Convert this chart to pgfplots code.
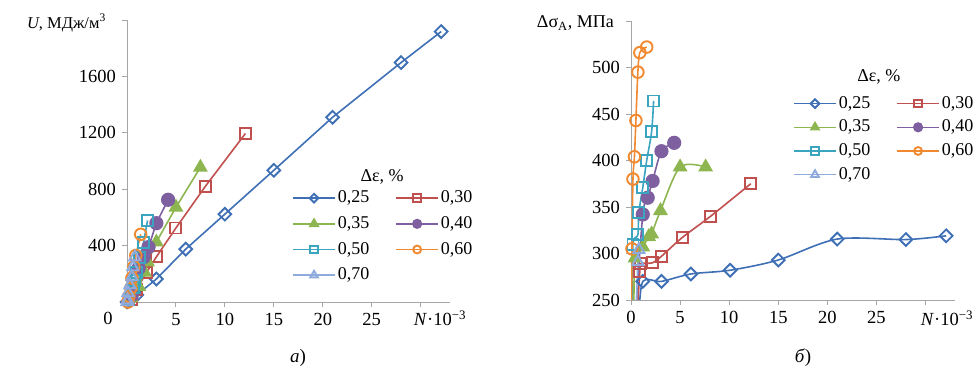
\documentclass[border=0pt]{standalone}
\usepackage{pgfplots}
\pgfplotsset{compat=1.18}
\usepackage{fontspec}
\setmainfont{Liberation Serif}
\definecolor{c1}{HTML}{3F6FB5}
\definecolor{c2}{HTML}{C0504D}
\definecolor{c3}{HTML}{8DB650}
\definecolor{c4}{HTML}{7E5FA0}
\definecolor{c5}{HTML}{3BA5C0}
\definecolor{c6}{HTML}{F0892F}
\definecolor{c7}{HTML}{8FAADC}
\definecolor{axgray}{HTML}{A6A6A6}
\pgfplotsset{
  myaxis/.style={
    scale only axis,
    axis lines=left,
    axis line style={-, draw=axgray, line width=0.9pt},
    tick style={draw=axgray, line width=0.9pt},
    tick align=outside,
    major tick length=5pt,
    /pgf/number format/assume math mode=true,
    /pgf/number format/1000 sep={},
    tick label style={font=\fontsize{18.5}{22}\selectfont},
    clip=true,
    legend columns=2,
    legend cell align=left,
    legend style={draw=none, fill=none, inner sep=0pt,
      font=\fontsize{18}{21}\selectfont,
      /tikz/every even column/.append style={column sep=24pt},
      row sep=7pt},
    legend image code/.code={
      \draw[mark repeat=2, mark phase=2, every mark/.append style={scale=0.68}]
        plot coordinates {(0pt,0pt) (21pt,0pt) (42pt,0pt)};},
    every axis plot/.append style={line width=1.6pt},
  },
  s25/.style={c1, mark=square, mark size=4.5pt, mark options={solid, fill=white, rotate=45, line width=1.9pt}},
  s30/.style={c2, mark=square, mark size=5.5pt, mark options={solid, fill=white, line width=1.9pt}},
  s35/.style={c3, mark=triangle*, mark size=7pt, mark options={solid, fill=c3}},
  s40/.style={c4, mark=*, mark size=6.3pt, mark options={solid, fill=c4}},
  s50/.style={c5, mark=square, mark size=5.5pt, mark options={solid, fill=white, line width=1.9pt}},
  s60/.style={c6, mark=o, mark size=5.8pt, mark options={solid, fill=white, line width=1.9pt}},
  s70/.style={c7, mark=triangle, mark size=6.5pt, mark options={solid, fill=white, line width=1.9pt}},
}
\begin{document}
\fontsize{18}{21}\selectfont
\begin{tikzpicture}
\path[use as bounding box] (0pt,0pt) rectangle (979pt,372pt);

% ---------- left chart (a) ----------
\begin{axis}[myaxis,
  at={(127pt,70pt)}, anchor=south west,
  width=323pt, height=282pt,
  xmin=0, xmax=33, ymin=0, ymax=2000,
  xtick={0,5,10,15,20,25,30},
  xticklabels={,5,10,15,20,25,},
  ytick={0,400,800,1200,1600,2000},
  yticklabels={,400,800,1200,1600,},
  legend style={at={(0.511,0.402)}, anchor=north west},
]
\addplot[s25] coordinates {(0,0)(1,50)(3,163)(6,375)(10,623)(15,934)(21,1310)(28,1698)(32.1,1918)};
\addlegendentry{0,25}
\addplot[s30] coordinates {(0.5,20)(1,90)(2,210)(3,320)(5,525)(8,820)(12.1,1195)};
\addlegendentry{0,30}
\addplot[s35] coordinates {(0.4,30)(1.2,110)(1.8,210)(2.1,283)(3,425)(5,672)(7.5,955)};
\addlegendentry{0,35}
\addplot[s40] coordinates {(0.5,50)(1.2,240)(1.7,318)(2.2,389)(3,559)(4.2,725)};
\addlegendentry{0,40}
\addplot[s50] coordinates {(0.2,20)(0.7,100)(0.8,150)(1.0,212)(1.3,318)(1.7,425)(2.1,578)};
\addlegendentry{0,50}
\addplot[s60] coordinates {(0.1,0)(0.2,40)(0.4,100)(0.5,170)(0.7,250)(0.9,330)(1.4,480)};
\addlegendentry{0,60}
\addplot[s70] coordinates {(0,0)(0.05,14)(0.1,64)(0.3,120)(0.5,177)(0.6,248)(0.8,318)};
\addlegendentry{0,70}
\node at (rel axis cs:0.79,0.443) {Δε, \%};
\end{axis}

% ---------- right chart (b) ----------
\begin{axis}[myaxis,
  at={(631pt,72pt)}, anchor=south west,
  width=324pt, height=279pt,
  xmin=0, xmax=33, ymin=250, ymax=550,
  xtick={0,5,10,15,20,25,30},
  xticklabels={0,5,10,15,20,25,},
  ytick={250,300,350,400,450,500,550},
  yticklabels={250,300,350,400,450,500,},
  legend style={at={(0.5,0.738)}, anchor=north west, row sep=5pt},
]
\addplot[s25, smooth] coordinates {(0.8,230)(1.2,270)(3.1,270)(6.1,278)(10.1,282)(15,293)(21,315.5)(28,315)(32.1,319)};
\addlegendentry{0,25}
\addplot[s30, smooth] coordinates {(0.6,230)(0.9,281)(1.0,289)(2.2,290)(3.1,297)(5.2,317)(8.1,340)(12.2,375)};
\addlegendentry{0,30}
\addplot[s35, smooth] coordinates {(0.3,240)(0.4,295)(1.2,307)(1.8,318)(2.1,321)(3.0,346)(5.0,393)(7.6,393)};
\addlegendentry{0,35}
\addplot[s40, smooth] coordinates {(0.5,240)(1.2,342)(1.7,360)(2.2,378)(3.1,410)(4.4,419)};
\addlegendentry{0,40}
\addplot[s50, smooth] coordinates {(0.1,240)(0.2,310)(0.7,320)(0.8,344)(1.2,371)(1.6,400)(2.1,431)(2.3,464)};
\addlegendentry{0,50}
\addplot[s60, smooth] coordinates {(0.05,230)(0.1,305)(0.2,380)(0.35,404)(0.5,443)(0.7,495)(0.9,516)(1.6,522)};
\addlegendentry{0,60}
\addplot[s70, smooth] coordinates {(0.5,230)(0.7,291)(0.8,304)};
\addlegendentry{0,70}
\node at (rel axis cs:0.765,0.80) {Δε, \%};
\end{axis}

% ---------- axis titles and captions ----------
\node[anchor=east, font=\fontsize{16.5}{20}\selectfont] at (112pt,349pt) {\textit{U}, МДж/м\textsuperscript{3}};
\node[anchor=east] at (620pt,349pt) {Δσ\textsubscript{A}, МПа};
\node[font=\fontsize{18.5}{22}\selectfont] at (108pt,54pt) {0};
\node[font=\fontsize{18.5}{22}\selectfont] at (440pt,54pt) {\textit{N}·10\textsuperscript{−3}};
\node[font=\fontsize{18.5}{22}\selectfont] at (947pt,54pt) {\textit{N}·10\textsuperscript{−3}};
\node[font=\fontsize{19}{22}\selectfont] at (298pt,14pt) {\textit{а})};
\node[font=\fontsize{19}{22}\selectfont] at (803pt,14pt) {\textit{б})};
\end{tikzpicture}
\end{document}
